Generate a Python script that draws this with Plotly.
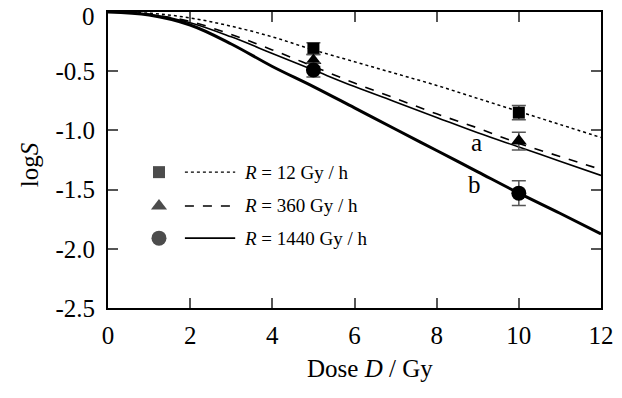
import plotly.graph_objects as go

# ---- data ----
dose = [0, 1, 2, 3, 4, 5, 6, 7, 8, 9, 10, 11, 12]
curve_r12 = [0, -0.01, -0.05, -0.12, -0.21, -0.32, -0.42, -0.52, -0.62, -0.73, -0.84, -0.95, -1.06]
curve_r360 = [0, -0.02, -0.08, -0.19, -0.32, -0.46, -0.60, -0.73, -0.86, -0.98, -1.11, -1.22, -1.33]
curve_a = [0, -0.02, -0.09, -0.21, -0.35, -0.49, -0.63, -0.76, -0.89, -1.02, -1.14, -1.26, -1.38]
curve_b = [0, -0.025, -0.11, -0.27, -0.46, -0.63, -0.81, -0.99, -1.17, -1.35, -1.53, -1.70, -1.875]

pt_dose = [5, 10]
pt_r12 = [-0.31, -0.85]
pt_r12_err = [0.05, 0.06]
pt_r360 = [-0.41, -1.09]
pt_r360_err = [0.05, 0.075]
pt_r1440 = [-0.49, -1.53]
pt_r1440_err = [0.06, 0.105]

x_ticks = [0, 2, 4, 6, 8, 10, 12]
y_ticks = [0, -0.5, -1.0, -1.5, -2.0, -2.5]
y_ticktext = ["0", "-0.5", "-1.0", "-1.5", "-2.0", "-2.5"]

legend_labels = ["<i>R</i> = 12 Gy / h", "<i>R</i> = 360 Gy / h", "<i>R</i> = 1440 Gy / h"]
legend_symbols = ["square", "triangle-up", "circle"]
legend_dash = ["dot", "dash", "solid"]
legend_width = [1.2, 1.5, 1.8]
legend_y = [0.459, 0.345, 0.236]

FONT = "Liberation Serif"

fig = go.Figure()

line_specs = [
    (curve_r12, "dot", 1.5),
    (curve_r360, "dash", 1.6),
    (curve_a, "solid", 1.6),
    (curve_b, "solid", 3),
]
for ys, dash, w in line_specs:
    fig.add_trace(go.Scatter(x=dose, y=ys, mode="lines", line=dict(color="black", dash=dash, width=w, shape="spline"),
                             showlegend=False, hoverinfo="skip"))

pt_specs = [
    (pt_r12, pt_r12_err, "square", 12),
    (pt_r360, pt_r360_err, "triangle-up", 14),
    (pt_r1440, pt_r1440_err, "circle", 15),
]
for ys, err, sym, size in pt_specs:
    fig.add_trace(go.Scatter(x=pt_dose, y=ys, mode="markers",
                             marker=dict(symbol=sym, size=size, color="black", line=dict(width=0)),
                             error_y=dict(type="data", array=err, visible=True, color="#555555", thickness=1.5, width=7),
                             showlegend=False))

# legend markers on an overlay axis (fractions of plot area)
fig.add_trace(go.Scatter(x=[0.1034] * 3, y=legend_y, mode="markers", xaxis="x2", yaxis="y2",
                         marker=dict(symbol=legend_symbols, size=[12, 14, 15], color="black", line=dict(width=0)),
                         showlegend=False, hoverinfo="skip"))

for i, lab in enumerate(legend_labels):
    fig.add_shape(type="line", xref="paper", yref="paper", x0=0.156, x1=0.258, y0=legend_y[i], y1=legend_y[i],
                  line=dict(color="black", dash=legend_dash[i], width=legend_width[i]))
    fig.add_annotation(xref="paper", yref="paper", x=0.272, y=legend_y[i], text=lab, showarrow=False,
                       xanchor="left", yanchor="middle", font=dict(family=FONT, size=19, color="black"))

fig.add_annotation(x=8.98, y=-1.10, text="a", showarrow=False, font=dict(family=FONT, size=25, color="black"))
fig.add_annotation(x=8.92, y=-1.46, text="b", showarrow=False, font=dict(family=FONT, size=25, color="black"))

fig.add_annotation(xref="paper", yref="paper", x=0.531, y=-0.203, text="Dose <i>D</i> / Gy", showarrow=False,
                   xanchor="center", yanchor="middle", font=dict(family=FONT, size=25, color="black"))
fig.add_annotation(xref="paper", yref="paper", x=-0.160, y=0.483, text="log<i>S</i>", showarrow=False, textangle=-90,
                   xanchor="center", yanchor="middle", font=dict(family=FONT, size=25, color="black"))

# top y tick label drawn as annotation, nudged down so it stays inside the page
fig.add_annotation(xref="paper", y=y_ticks[0], x=-0.0223, text=y_ticktext[0], showarrow=False,
                   xanchor="right", yanchor="middle", yshift=-4, font=dict(family=FONT, size=25, color="black"))
y_ticktext_axis = [""] + y_ticktext[1:]

axis_common = dict(showline=True, linecolor="black", linewidth=2, mirror="ticks", ticks="inside", ticklen=10,
                   tickwidth=1.5, tickcolor="#555555", showgrid=False, zeroline=False, automargin=False,
                   ticklabeloverflow="allow",
                   tickfont=dict(family=FONT, size=25, color="black"))

fig.update_layout(
    width=614, height=390,
    margin=dict(l=100, r=21, t=4, b=90),
    plot_bgcolor="white", paper_bgcolor="white",
    xaxis=dict(range=[0, 12], tickvals=x_ticks, ticklabelstandoff=4, **axis_common),
    yaxis=dict(range=[-2.5, 0], tickvals=y_ticks, ticktext=y_ticktext_axis, ticklabelstandoff=6, **axis_common),
    xaxis2=dict(overlaying="x", range=[0, 1], visible=False),
    yaxis2=dict(overlaying="y", range=[0, 1], visible=False),
    showlegend=False,
)

fig.write_html("out.html")
